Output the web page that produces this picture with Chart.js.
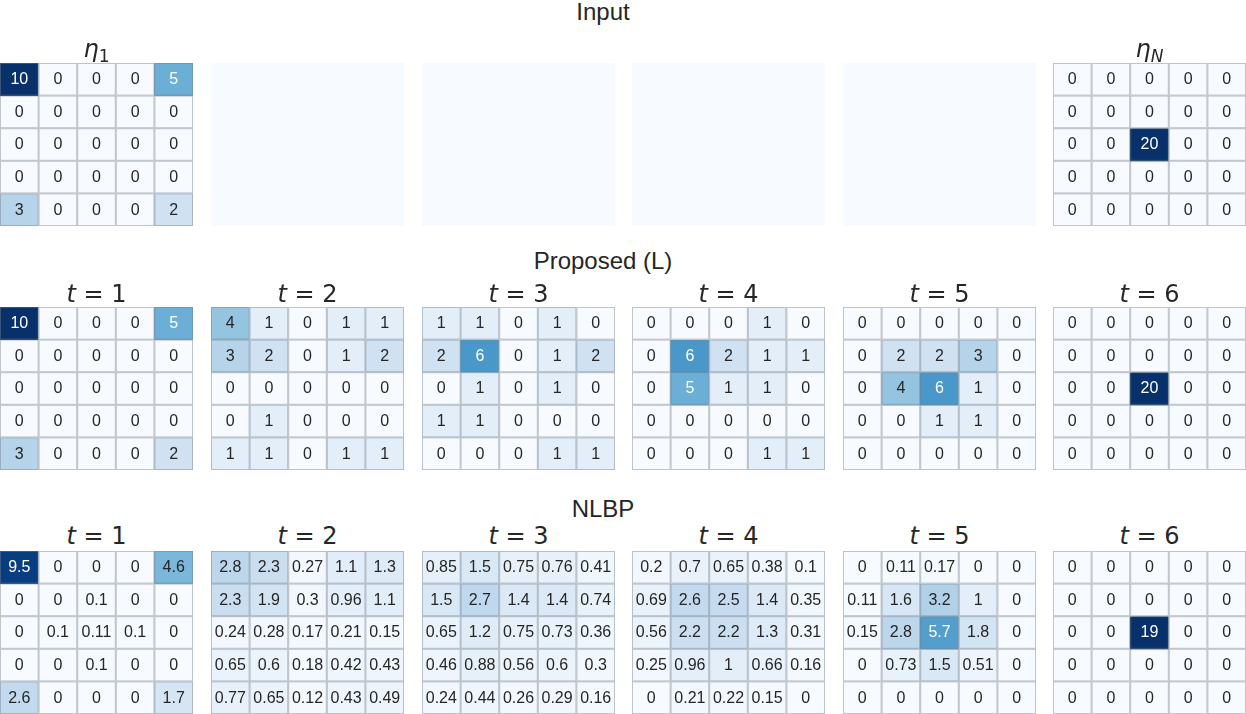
<!DOCTYPE html>
<html>
<head>
<meta charset="utf-8">
<script src="https://cdn.jsdelivr.net/npm/chart.js@4.4.1/dist/chart.umd.min.js"></script>
<style>
  body { margin: 0; background: #fff; }
  #fig { position: relative; width: 1246px; height: 714px; overflow: hidden; font-family: "Liberation Sans", Arial, sans-serif; color: #262626; }
  .panel { position: absolute; }
  .head { position: absolute; font-size: 24px; line-height: 24px; white-space: nowrap; transform: translateX(-50%); }
  .sub { position: absolute; font-family: "DejaVu Sans", sans-serif; font-size: 24px; line-height: 24px; white-space: nowrap; transform: translateX(-50%); }
  .sub i { font-style: italic; }
  .sub sub { font-size: 17px; vertical-align: -5px; line-height: 0; }
</style>
</head>
<body>
<div id="fig"></div>
<script>
// grid columns / rows of every 5x5 map
const COLS = ['c1', 'c2', 'c3', 'c4', 'c5'];
const ROWS = ['r1', 'r2', 'r3', 'r4', 'r5'];
const VMAX = 10;

// Input
const inputFirst = [[10, 0, 0, 0, 5], [0, 0, 0, 0, 0], [0, 0, 0, 0, 0], [0, 0, 0, 0, 0], [3, 0, 0, 0, 2]];
const inputBlank = [[0, 0, 0, 0, 0], [0, 0, 0, 0, 0], [0, 0, 0, 0, 0], [0, 0, 0, 0, 0], [0, 0, 0, 0, 0]];
const inputLast = [[0, 0, 0, 0, 0], [0, 0, 0, 0, 0], [0, 0, 20, 0, 0], [0, 0, 0, 0, 0], [0, 0, 0, 0, 0]];

// Proposed (L)
const proposedT1 = [[10, 0, 0, 0, 5], [0, 0, 0, 0, 0], [0, 0, 0, 0, 0], [0, 0, 0, 0, 0], [3, 0, 0, 0, 2]];
const proposedT2 = [[4, 1, 0, 1, 1], [3, 2, 0, 1, 2], [0, 0, 0, 0, 0], [0, 1, 0, 0, 0], [1, 1, 0, 1, 1]];
const proposedT3 = [[1, 1, 0, 1, 0], [2, 6, 0, 1, 2], [0, 1, 0, 1, 0], [1, 1, 0, 0, 0], [0, 0, 0, 1, 1]];
const proposedT4 = [[0, 0, 0, 1, 0], [0, 6, 2, 1, 1], [0, 5, 1, 1, 0], [0, 0, 0, 0, 0], [0, 0, 0, 1, 1]];
const proposedT5 = [[0, 0, 0, 0, 0], [0, 2, 2, 3, 0], [0, 4, 6, 1, 0], [0, 0, 1, 1, 0], [0, 0, 0, 0, 0]];
const proposedT6 = [[0, 0, 0, 0, 0], [0, 0, 0, 0, 0], [0, 0, 20, 0, 0], [0, 0, 0, 0, 0], [0, 0, 0, 0, 0]];

// NLBP
const nlbpT1 = [[9.5, 0, 0, 0, 4.6], [0, 0, 0.1, 0, 0], [0, 0.1, 0.11, 0.1, 0], [0, 0, 0.1, 0, 0], [2.6, 0, 0, 0, 1.7]];
const nlbpT2 = [[2.8, 2.3, 0.27, 1.1, 1.3], [2.3, 1.9, 0.3, 0.96, 1.1], [0.24, 0.28, 0.17, 0.21, 0.15], [0.65, 0.6, 0.18, 0.42, 0.43], [0.77, 0.65, 0.12, 0.43, 0.49]];
const nlbpT3 = [[0.85, 1.5, 0.75, 0.76, 0.41], [1.5, 2.7, 1.4, 1.4, 0.74], [0.65, 1.2, 0.75, 0.73, 0.36], [0.46, 0.88, 0.56, 0.6, 0.3], [0.24, 0.44, 0.26, 0.29, 0.16]];
const nlbpT4 = [[0.2, 0.7, 0.65, 0.38, 0.1], [0.69, 2.6, 2.5, 1.4, 0.35], [0.56, 2.2, 2.2, 1.3, 0.31], [0.25, 0.96, 1, 0.66, 0.16], [0, 0.21, 0.22, 0.15, 0]];
const nlbpT5 = [[0, 0.11, 0.17, 0, 0], [0.11, 1.6, 3.2, 1, 0], [0.15, 2.8, 5.7, 1.8, 0], [0, 0.73, 1.5, 0.51, 0], [0, 0, 0, 0, 0]];
const nlbpT6 = [[0, 0, 0, 0, 0], [0, 0, 0, 0, 0], [0, 0, 19, 0, 0], [0, 0, 0, 0, 0], [0, 0, 0, 0, 0]];

const ROW_TITLES = ['Input', 'Proposed (L)', 'NLBP'];
const STEP_TITLES = ['1', '2', '3', '4', '5', '6'];

// layout
const PANEL_X = [0, 211, 422, 632, 843, 1053];
const PANEL_Y = [63, 307, 551];
const PANEL_W = 193;
const PANEL_H = 163;

// matplotlib "Blues"
const BLUES = ['#f7fbff', '#deebf7', '#c6dbef', '#9ecae1', '#6baed6', '#4292c6', '#2171b5', '#08519c', '#08306b'];

function hexRgb(hex) {
  return [1, 3, 5].map(i => parseInt(hex.slice(i, i + 2), 16));
}

function bluesRgb(value) {
  const t = Math.max(0, Math.min(1, value / VMAX)) * (BLUES.length - 1);
  const i = Math.min(BLUES.length - 2, Math.floor(t));
  const a = hexRgb(BLUES[i]);
  const b = hexRgb(BLUES[i + 1]);
  const f = t - i;
  return a.map((c, k) => Math.round(c + (b[k] - c) * f));
}

function blues(value) {
  const [r, g, b] = bluesRgb(value);
  return `rgb(${r},${g},${b})`;
}

function textColor(value) {
  const lin = bluesRgb(value).map(c => {
    const s = c / 255;
    return s <= 0.03928 ? s / 12.92 : ((s + 0.055) / 1.055) ** 2.4;
  });
  const lum = 0.2126 * lin[0] + 0.7152 * lin[1] + 0.0722 * lin[2];
  return lum > 0.408 ? '#262626' : '#ffffff';
}

const fmt = v => String(Number(v.toPrecision(2)));

const cellPlugin = {
  id: 'cells',
  afterDatasetsDraw(chart, _args, opts) {
    const { ctx } = chart;
    ctx.save();
    chart.data.datasets.forEach((ds, di) => {
      chart.getDatasetMeta(di).data.forEach((bar, ci) => {
        const { x, y, base, width } = bar.getProps(['x', 'y', 'base', 'width'], true);
        const left = x - width / 2;
        const top = Math.min(y, base);
        const h = Math.abs(base - y);
        if (opts.grid) {
          ctx.strokeStyle = 'rgba(120,128,140,0.45)';
          ctx.lineWidth = 1;
          ctx.strokeRect(left + 0.5, top + 0.5, width - 1, h - 1);
        }
        if (opts.annotate) {
          const v = ds.values[ci];
          ctx.fillStyle = textColor(v);
          ctx.font = '16px "Liberation Sans", Arial, sans-serif';
          ctx.textAlign = 'center';
          ctx.textBaseline = 'middle';
          ctx.fillText(fmt(v), x, top + h / 2 + 0.5);
        }
      });
    });
    ctx.restore();
  },
};

const fig = document.getElementById('fig');

function makeHeatmap(matrix, px, py, annotate) {
  const wrap = document.createElement('div');
  wrap.className = 'panel';
  wrap.style.left = px + 'px';
  wrap.style.top = py + 'px';
  const canvas = document.createElement('canvas');
  canvas.width = PANEL_W;
  canvas.height = PANEL_H;
  wrap.appendChild(canvas);
  fig.appendChild(wrap);

  new Chart(canvas, {
    type: 'bar',
    data: {
      labels: COLS,
      datasets: matrix.map((row, r) => ({
        label: ROWS[r],
        data: row.map(() => 1),
        values: row,
        backgroundColor: row.map(blues),
        borderWidth: 0,
        barPercentage: 1,
        categoryPercentage: 1,
      })),
    },
    options: {
      responsive: false,
      animation: false,
      events: [],
      layout: { padding: 0 },
      plugins: {
        legend: { display: false },
        tooltip: { enabled: false },
        cells: { annotate, grid: annotate },
      },
      scales: {
        x: { display: false, stacked: true },
        y: { display: false, stacked: true, min: 0, max: 5, reverse: true },
      },
    },
    plugins: [cellPlugin],
  });
}

function addText(cls, html, cx, top) {
  const el = document.createElement('div');
  el.className = cls;
  el.innerHTML = html;
  el.style.left = cx + 'px';
  el.style.top = top + 'px';
  fig.appendChild(el);
}

const grid = [
  [inputFirst, inputBlank, inputBlank, inputBlank, inputBlank, inputLast],
  [proposedT1, proposedT2, proposedT3, proposedT4, proposedT5, proposedT6],
  [nlbpT1, nlbpT2, nlbpT3, nlbpT4, nlbpT5, nlbpT6],
];

grid.forEach((row, r) => {
  row.forEach((m, c) => {
    const blank = r === 0 && c > 0 && c < 5;
    makeHeatmap(m, PANEL_X[c], PANEL_Y[r], !blank);
  });
});

// titles
addText('head', ROW_TITLES[0], 603, 0);
addText('head', ROW_TITLES[1], 603, 249);
addText('head', ROW_TITLES[2], 603, 497);

addText('sub', '<i>η</i><sub>1</sub>', PANEL_X[0] + PANEL_W / 2, 37);
addText('sub', '<i>η</i><sub><i>N</i></sub>', PANEL_X[5] + PANEL_W / 2, 37);

STEP_TITLES.forEach((s, c) => {
  const cx = PANEL_X[c] + PANEL_W / 2;
  addText('sub', `<i>t</i> = ${s}`, cx, 282);
  addText('sub', `<i>t</i> = ${s}`, cx, 524);
});
</script>
</body>
</html>
